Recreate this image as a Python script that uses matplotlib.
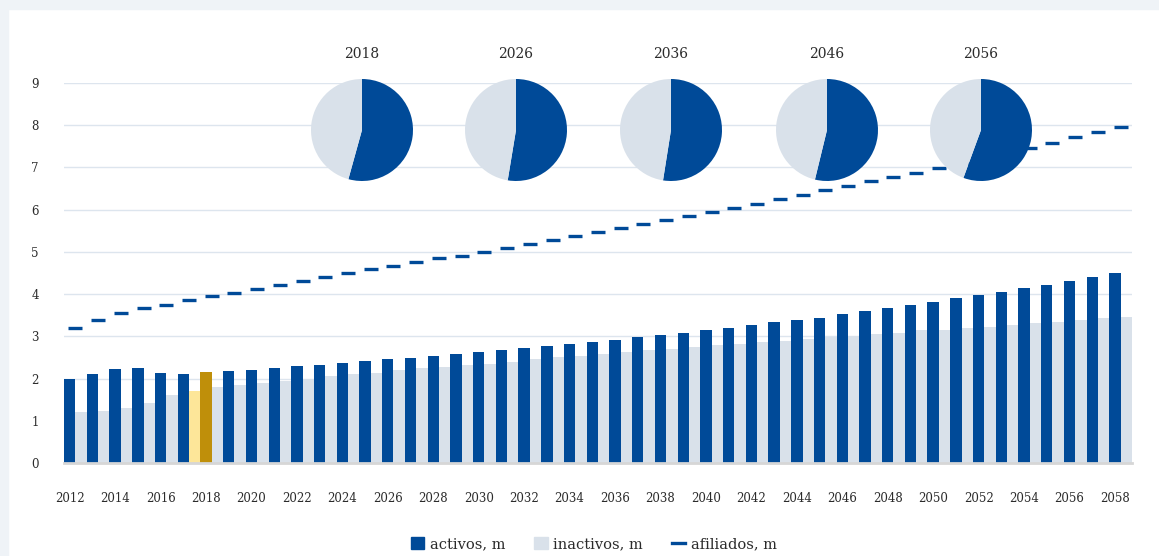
import matplotlib
matplotlib.use('Agg')
import matplotlib.pyplot as plt
from matplotlib.patches import Patch, Rectangle
from matplotlib.lines import Line2D
import numpy as np

# data (millions)
years = list(range(2012, 2059))
activos = [1.98, 2.11, 2.22, 2.24, 2.12, 2.11, 2.16, 2.17, 2.20, 2.25,
           2.30, 2.32, 2.37, 2.42, 2.46, 2.49, 2.54, 2.58, 2.63, 2.68,
           2.72, 2.76, 2.81, 2.87, 2.91, 2.98, 3.03, 3.08, 3.14, 3.20,
           3.26, 3.33, 3.38, 3.44, 3.52, 3.59, 3.66, 3.74, 3.81, 3.90,
           3.97, 4.04, 4.14, 4.22, 4.30, 4.40, 4.49]
inactivos = [1.21, 1.23, 1.30, 1.42, 1.60, 1.71, 1.79, 1.84, 1.89, 1.95,
             2.00, 2.05, 2.10, 2.14, 2.21, 2.25, 2.28, 2.31, 2.35, 2.40,
             2.46, 2.50, 2.54, 2.58, 2.63, 2.68, 2.71, 2.75, 2.80, 2.83,
             2.86, 2.90, 2.93, 2.98, 3.01, 3.05, 3.09, 3.14, 3.16, 3.19,
             3.23, 3.26, 3.31, 3.34, 3.38, 3.43, 3.46]
afiliados = [3.19, 3.38, 3.55, 3.66, 3.74, 3.85, 3.95, 4.02, 4.12, 4.22,
             4.31, 4.41, 4.49, 4.59, 4.67, 4.75, 4.85, 4.91, 4.99, 5.09,
             5.18, 5.27, 5.37, 5.47, 5.56, 5.66, 5.75, 5.85, 5.94, 6.03,
             6.13, 6.25, 6.34, 6.46, 6.56, 6.67, 6.77, 6.86, 6.98, 7.10,
             7.21, 7.32, 7.46, 7.57, 7.72, 7.84, 7.95]

# pies: share of activos / inactivos (%)
pie_years = ['2018', '2026', '2036', '2046', '2056']
pie_activos = [54.3, 52.6, 52.5, 53.8, 55.6]
pie_inactivos = [45.7, 47.4, 47.5, 46.2, 44.4]

DARK = '#004A98'
LIGHT = '#D9E1EA'
GOLD = '#BF8F0A'
YELLOW = '#FDE699'
TXT = '#2b2b2b'

plt.rcParams['font.family'] = ['DejaVu Serif']

W, H = 1159, 556
fig = plt.figure(figsize=(W / 100, H / 100), dpi=100)
fig.patch.set_facecolor('white')
# light frame strips at top and left
fig.patches.append(Rectangle((0, 1 - 8.5 / H), 1, 8.5 / H, transform=fig.transFigure,
                             color='#EFF3F7', zorder=0))
fig.patches.append(Rectangle((0, 0), 8 / W, 1, transform=fig.transFigure,
                             color='#EFF3F7', zorder=0))

ax = fig.add_axes([64 / W, 1 - 463 / H, (1132 - 64) / W, (463 - 83) / H])
x = np.arange(len(years))

dark_colors = [DARK] * len(years)
light_colors = [LIGHT] * len(years)
hi = years.index(2018)
dark_colors[hi] = GOLD
light_colors[hi - 1] = YELLOW  # highlighted pair around 2018

ax.bar(x + 0.5, inactivos, width=0.5, color=light_colors, zorder=2)
ax.bar(x, activos, width=0.5, color=dark_colors, zorder=3)
ax.plot(x + 0.25, afiliados, linestyle='none', marker='_', markersize=10,
        markeredgewidth=2.4, color=DARK, zorder=4)

ax.set_xlim(-0.25, len(years) - 0.25)
ax.set_ylim(0, 9)
ax.set_yticks(range(0, 10))
ax.set_xticks(x[::2])
ax.set_xticklabels([str(y) for y in years[::2]])
ax.tick_params(axis='both', length=0, labelsize=8.5, colors=TXT)
ax.tick_params(axis='y', pad=18)
ax.tick_params(axis='x', pad=21)
ax.grid(axis='y', color='#DDE5EE', linewidth=1, zorder=0)
ax.set_axisbelow(True)
for s in ['top', 'right', 'left']:
    ax.spines[s].set_visible(False)
ax.spines['bottom'].set_color('#D6D6D6')
ax.spines['bottom'].set_linewidth(2)
ax.spines['bottom'].set_zorder(5)

# pies on top of the chart
pie_cx = [362, 516, 671, 827, 981]
pie_cy = 130
r = 51
for yr, a, b, cx in zip(pie_years, pie_activos, pie_inactivos, pie_cx):
    pax = fig.add_axes([(cx - r) / W, 1 - (pie_cy + r) / H, 2 * r / W, 2 * r / H])
    pax.pie([a, b], colors=[DARK, LIGHT], startangle=90, counterclock=False,
            wedgeprops=dict(linewidth=0))
    pax.set_aspect('auto')
    pax.set_xlim(-1, 1)
    pax.set_ylim(-1, 1)
    pax.text(0, 1.49, yr, ha='center', va='center', fontsize=10, color=TXT,
             clip_on=False)

handles = [Patch(color=DARK), Patch(color=LIGHT),
           Line2D([], [], color=DARK, linewidth=2.4)]
fig.legend(handles, ['activos, m', 'inactivos, m', 'afiliados, m'],
           loc='center', bbox_to_anchor=(594 / W, 1 - 544 / H), ncol=3,
           frameon=False, fontsize=10.5, handlelength=0.9, handleheight=0.9,
           handletextpad=0.4, columnspacing=2.0, labelcolor=TXT)

fig.savefig('out.png', dpi=100)
